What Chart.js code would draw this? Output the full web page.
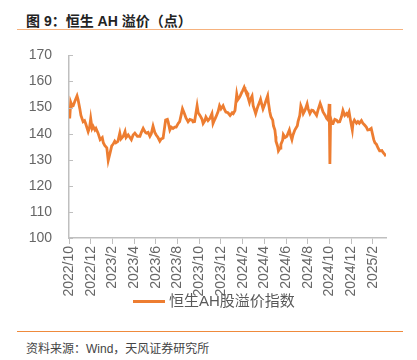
<!DOCTYPE html>
<html>
<head>
<meta charset="utf-8">
<script src="https://cdn.jsdelivr.net/npm/chart.js@4.4.1/dist/chart.umd.min.js"></script>
<style>
  html, body { margin: 0; padding: 0; background: #fff; }
  body { width: 417px; height: 360px; position: relative; overflow: hidden;
         font-family: "Liberation Sans", "Noto Sans CJK SC", sans-serif; }
  .title { position: absolute; left: 26px; top: 10px; font-size: 14px; font-weight: bold; color: #222; }
  .rule-top { position: absolute; left: 17px; top: 29px; width: 386px; height: 1px; background: #f6b27e; }
  .rule-bottom { position: absolute; left: 17px; top: 331px; width: 386px; height: 1px; background: #ef8a3c; }
  .source { position: absolute; left: 26px; top: 339px; font-size: 12px; color: #444; }
  .wrap { position: absolute; left: 0; top: 30px; width: 417px; height: 270px; }
  .legend { position: absolute; left: 133px; top: 292px; height: 18px; line-height: 18px;
            font-size: 15px; color: #595959; white-space: nowrap; }
  .legend .swatch { display: inline-block; width: 32px; height: 3px; background: #ed7d31;
                    vertical-align: middle; margin-right: 4px; position: relative; top: -1px; }
</style>
</head>
<body>
<div class="title">图 9：恒生 AH 溢价（点）</div>
<div class="rule-top"></div>
<div class="wrap"><canvas id="chart"></canvas></div>
<div class="legend" id="legend"></div>
<div class="rule-bottom"></div>
<div class="source">资料来源：Wind，天风证券研究所</div>
<script>
// readings
const dates = [
  '2022-10-03','2022-10-06','2022-10-10','2022-10-13','2022-10-18','2022-10-24','2022-10-27',
  '2022-11-01','2022-11-04','2022-11-10','2022-11-14','2022-11-17','2022-11-24','2022-11-28',
  '2022-12-01','2022-12-05','2022-12-08','2022-12-13','2022-12-16','2022-12-22','2022-12-28',
  '2023-01-03','2023-01-06','2023-01-10','2023-01-16','2023-01-20','2023-01-26','2023-01-30',
  '2023-02-03','2023-02-07','2023-02-10','2023-02-15','2023-02-20','2023-02-23',
  '2023-03-01','2023-03-06','2023-03-09','2023-03-15','2023-03-20','2023-03-24','2023-03-29',
  '2023-04-03','2023-04-10','2023-04-17','2023-04-21','2023-04-26',
  '2023-05-02','2023-05-05','2023-05-10','2023-05-15','2023-05-19','2023-05-24','2023-05-29',
  '2023-06-02','2023-06-07','2023-06-12','2023-06-16','2023-06-21','2023-06-28',
  '2023-07-03','2023-07-05','2023-07-10','2023-07-14','2023-07-19','2023-07-24','2023-07-28',
  '2023-08-03','2023-08-07','2023-08-11','2023-08-15','2023-08-21','2023-08-25','2023-08-31',
  '2023-09-05','2023-09-11','2023-09-14','2023-09-18','2023-09-25','2023-09-28',
  '2023-10-03','2023-10-09','2023-10-12','2023-10-17','2023-10-20','2023-10-26','2023-10-31',
  '2023-11-06','2023-11-09','2023-11-14','2023-11-17','2023-11-23','2023-11-27',
  '2023-12-01','2023-12-07','2023-12-12','2023-12-15','2023-12-21','2023-12-27',
  '2024-01-02','2024-01-05','2024-01-10','2024-01-15','2024-01-18','2024-01-22','2024-01-25','2024-01-29',
  '2024-02-01','2024-02-05','2024-02-07','2024-02-13','2024-02-15','2024-02-19','2024-02-21','2024-02-26','2024-02-29',
  '2024-03-04','2024-03-07','2024-03-11','2024-03-14','2024-03-18','2024-03-21','2024-03-25','2024-03-28',
  '2024-04-02','2024-04-05','2024-04-10','2024-04-12','2024-04-16','2024-04-19','2024-04-24','2024-04-26','2024-04-30',
  '2024-05-02','2024-05-03','2024-05-08','2024-05-10','2024-05-15','2024-05-17','2024-05-22','2024-05-24','2024-05-29',
  '2024-06-03','2024-06-06','2024-06-10','2024-06-13','2024-06-17','2024-06-20','2024-06-25',
  '2024-07-02','2024-07-04','2024-07-09','2024-07-12','2024-07-17','2024-07-19','2024-07-24','2024-07-30',
  '2024-08-02','2024-08-07','2024-08-12','2024-08-16','2024-08-21','2024-08-26','2024-08-30',
  '2024-09-05','2024-09-09','2024-09-13','2024-09-19','2024-09-23','2024-09-27','2024-09-30',
  '2024-10-02','2024-10-04','2024-10-08','2024-10-11','2024-10-16','2024-10-21','2024-10-25','2024-10-30',
  '2024-11-04','2024-11-08','2024-11-13','2024-11-18','2024-11-21','2024-11-25','2024-11-29',
  '2024-12-04','2024-12-06','2024-12-10','2024-12-16','2024-12-20','2024-12-24','2024-12-30',
  '2025-01-03','2025-01-08','2025-01-13','2025-01-17','2025-01-22','2025-01-27',
  '2025-02-03','2025-02-06','2025-02-10','2025-02-14','2025-02-18','2025-02-24','2025-02-27',
  '2025-03-04','2025-03-07'
];
const ahPremium = [
  145.8, 152.0, 150.5, 150.7, 152.5, 154.5, 153.0,
  149.5, 147.0, 144.6, 145.0, 143.9, 140.8, 142.5,
  145.8, 142.0, 142.8, 141.4, 142.0, 140.2, 137.7,
  138.5, 136.5, 135.5, 134.6, 129.7, 133.0, 135.3,
  136.0, 137.1, 136.5, 137.0, 140.2, 138.0,
  139.0, 140.8, 138.5, 139.5, 138.5, 137.7, 139.5,
  140.2, 139.0, 139.0, 140.5, 142.0,
  140.5, 140.2, 140.5, 139.0, 140.0, 142.9, 140.5,
  139.5, 138.5, 137.1, 138.0, 138.3, 145.2,
  145.5, 144.6, 141.4, 142.5, 142.0, 142.5, 142.5,
  144.0, 144.6, 147.0, 149.5, 147.5, 146.0, 144.6,
  145.5, 145.2, 144.5, 144.6, 150.7, 148.0,
  147.0, 145.5, 143.9, 145.0, 146.4, 145.0, 145.8,
  147.7, 143.9, 145.5, 146.4, 148.5, 150.7,
  149.5, 150.7, 149.0, 148.3, 148.0, 147.0,
  148.0, 147.7, 148.9, 155.1, 153.0, 153.8, 154.5, 155.7,
  156.5, 157.8, 157.0, 155.7, 154.0, 152.0, 153.0, 154.4, 150.7,
  149.0, 147.7, 149.5, 150.7, 152.0, 153.2, 151.0, 149.5,
  151.3, 152.5, 154.5, 152.0, 148.3, 146.5, 145.2, 143.0, 141.4,
  139.0, 137.1, 135.0, 133.4, 134.5, 135.9, 137.5, 139.6, 138.5,
  139.0, 140.0, 141.4, 139.5, 137.7, 139.5, 141.4,
  143.0, 144.6, 147.0, 150.7, 149.0, 147.7, 149.0, 151.4,
  149.5, 147.7, 149.0, 148.9, 148.0, 147.0, 149.0,
  151.6, 150.0, 148.3, 147.0, 145.8, 145.2, 151.4,
  128.4, 146.0, 143.9, 143.9, 145.5, 145.2, 144.5, 144.6,
  146.5, 148.9, 147.0, 147.7, 147.0, 148.3, 145.0,
  141.4, 144.0, 145.2, 144.0, 144.6, 144.0, 145.0,
  144.0, 143.3, 142.5, 141.4, 141.5, 142.0,
  137.7, 136.5, 135.9, 134.5, 133.4, 133.5, 132.8,
  132.0, 131.3
];
const seriesName = '恒生AH股溢价指数';
const yTicks = [100, 110, 120, 130, 140, 150, 160, 170];

// months since 2022/10
function monthIndex(s) {
  const [y, m, d] = s.split('-').map(Number);
  const dim = new Date(y, m, 0).getDate();
  return (y - 2022) * 12 + (m - 10) + (d - 1) / dim;
}
function monthLabel(v) {
  const n = 9 + Math.round(v);
  return (2022 + Math.floor(n / 12)) + '/' + (n % 12 + 1);
}

const points = dates.map((d, i) => ({ x: monthIndex(d), y: ahPremium[i] }));
const lineColor = '#ed7d31';

// the legend overlaps the rotated date labels in the original, so it sits outside the canvas
document.getElementById('legend').innerHTML =
  '<span class="swatch"></span>' + seriesName;

// short tick marks on the inner side of the value axis
const innerTicks = {
  id: 'innerTicks',
  afterDraw(chart) {
    const { ctx, chartArea, scales } = chart;
    ctx.save();
    ctx.strokeStyle = '#bfbfbf';
    ctx.lineWidth = 1;
    yTicks.forEach(v => {
      const y = Math.round(scales.y.getPixelForValue(v)) + 0.5;
      ctx.beginPath();
      ctx.moveTo(chartArea.left, y);
      ctx.lineTo(chartArea.left + 4, y);
      ctx.stroke();
    });
    ctx.restore();
  }
};

Chart.defaults.font.family = '"Liberation Sans", "Noto Sans CJK SC", sans-serif';

new Chart(document.getElementById('chart'), {
  type: 'line',
  data: {
    datasets: [{
      label: seriesName,
      data: points,
      borderColor: lineColor,
      backgroundColor: lineColor,
      borderWidth: 2.8,
      pointRadius: 0,
      tension: 0
    }]
  },
  options: {
    responsive: true,
    maintainAspectRatio: false,
    animation: false,
    layout: { padding: { top: 3, right: 31, left: 0, bottom: 0 } },
    plugins: {
      legend: { display: false },
      tooltip: { enabled: false }
    },
    scales: {
      x: {
        type: 'linear',
        min: 0,
        max: 29.2,
        afterFit: scale => { scale.height = 62; },
        border: { color: '#bfbfbf', width: 1.5 },
        grid: { drawOnChartArea: false, tickLength: 6, color: '#bfbfbf' },
        ticks: {
          stepSize: 2,
          includeBounds: false,
          autoSkip: false,
          maxRotation: 90,
          minRotation: 90,
          padding: 2,
          color: '#666',
          font: { size: 14 },
          callback: v => monthLabel(v)
        }
      },
      y: {
        min: 100,
        max: 170,
        afterFit: scale => { scale.width = 69; },
        border: { color: '#bfbfbf', width: 1.5 },
        grid: { drawOnChartArea: false, drawTicks: false },
        ticks: { stepSize: 10, padding: 17, color: '#666', font: { size: 14 } }
      }
    }
  },
  plugins: [innerTicks]
});
</script>
</body>
</html>
